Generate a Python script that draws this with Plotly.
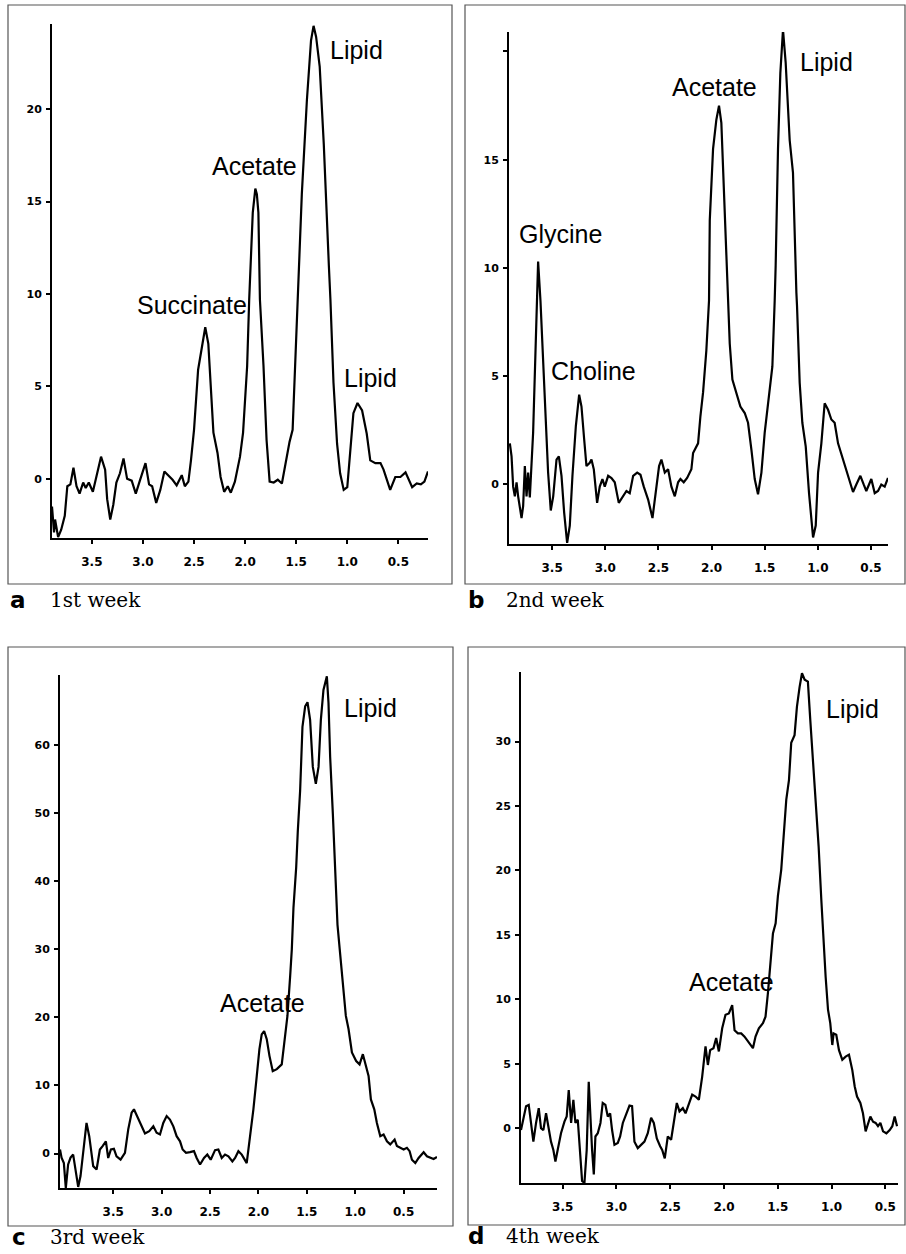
import plotly.graph_objects as go

# ---------------- data (ppm, intensity) ----------------
a_ppm = [3.89, 3.87, 3.86, 3.83, 3.80, 3.765, 3.74, 3.71, 3.68, 3.65, 3.62, 3.585, 3.56, 3.53, 3.49,
         3.455, 3.41, 3.37, 3.35, 3.32, 3.29, 3.26, 3.225, 3.19, 3.155, 3.11, 3.07, 3.03, 2.975, 2.94,
         2.91, 2.87, 2.83, 2.79, 2.75, 2.71, 2.67, 2.62, 2.59, 2.555, 2.53, 2.50, 2.46, 2.425, 2.39,
         2.36, 2.335, 2.31, 2.27, 2.24, 2.205, 2.17, 2.14, 2.10, 2.05, 2.02, 1.98, 1.96, 1.925, 1.90,
         1.885, 1.87, 1.855, 1.82, 1.79, 1.76, 1.72, 1.68, 1.64, 1.61, 1.565, 1.535, 1.51, 1.49, 1.445,
         1.395, 1.355, 1.33, 1.305, 1.27, 1.23, 1.18, 1.165, 1.135, 1.10, 1.07, 1.035, 1.00, 0.97, 0.94,
         0.90, 0.855, 0.81, 0.775, 0.725, 0.675, 0.645, 0.61, 0.58, 0.53, 0.48, 0.43, 0.40, 0.365, 0.32,
         0.28, 0.245, 0.21]
a_val = [-1.5, -2.9, -2.2, -3.15, -2.75, -2.0, -0.4, -0.3, 0.6, -0.4, -0.8, -0.2, -0.5, -0.2, -0.7,
         0.1, 1.2, 0.5, -1.1, -2.2, -1.4, -0.2, 0.3, 1.1, 0.0, -0.1, -0.8, -0.1, 0.85, -0.3,
         -0.4, -1.3, -0.6, 0.4, 0.2, -0.05, -0.35, 0.2, -0.4, -0.15, 1.0, 2.65, 5.9, 7.0, 8.2,
         7.3, 4.8, 2.5, 1.4, 0.1, -0.7, -0.4, -0.75, -0.15, 1.2, 2.5, 6.1, 9.7, 14.4, 15.7,
         15.4, 14.4, 9.7, 6.1, 2.1, -0.15, -0.2, -0.05, -0.25, 0.65, 2.0, 2.65, 6.1, 9.7, 15.4,
         20.5, 23.7, 24.5, 23.9, 22.3, 18.1, 11.5, 9.7, 5.2, 1.9, 0.3, -0.6, -0.45, 1.75, 3.55,
         4.1, 3.7, 2.45, 1.0, 0.85, 0.85, 0.5, -0.05, -0.6, 0.1, 0.1, 0.35, -0.05, -0.45, -0.25,
         -0.3, -0.15, 0.4]

b_ppm = [3.898, 3.882, 3.867, 3.851, 3.835, 3.82, 3.788, 3.773, 3.757, 3.741, 3.726, 3.71, 3.679,
         3.663, 3.647, 3.632, 3.61, 3.585, 3.56, 3.538, 3.513, 3.49, 3.459, 3.437, 3.412, 3.387,
         3.359, 3.334, 3.309, 3.277, 3.246, 3.224, 3.199, 3.177, 3.146, 3.13, 3.108, 3.077, 3.052,
         3.027, 3.005, 2.973, 2.942, 2.911, 2.873, 2.832, 2.801, 2.77, 2.738, 2.70, 2.669, 2.638,
         2.597, 2.556, 2.525, 2.494, 2.472, 2.44, 2.409, 2.378, 2.346, 2.315, 2.293, 2.262, 2.23,
         2.19, 2.174, 2.127, 2.105, 2.08, 2.049, 2.024, 2.017, 1.986, 1.955, 1.93, 1.908, 1.886,
         1.867, 1.845, 1.829, 1.804, 1.767, 1.729, 1.688, 1.657, 1.625, 1.594, 1.563, 1.531, 1.50,
         1.459, 1.428, 1.406, 1.397, 1.375, 1.353, 1.328, 1.303, 1.265, 1.234, 1.202, 1.196, 1.171,
         1.146, 1.114, 1.083, 1.045, 1.02, 0.998, 0.967, 0.936, 0.904, 0.873, 0.842, 0.81, 0.763,
         0.716, 0.669, 0.638, 0.60, 0.569, 0.544, 0.497, 0.465, 0.434, 0.403, 0.371, 0.34]
b_val = [1.9, 1.3, -0.1, -0.55, 0.1, -0.55, -1.55, -1.0, 0.85, -0.55, 0.55, -0.6, 2.4,
         5.5, 7.8, 10.3, 8.5, 5.5, 2.4, 0.55, -1.2, -0.55, 1.15, 1.3, 0.4, -1.3,
         -2.7, -1.9, 0.4, 2.7, 4.15, 3.6, 2.1, 0.85, 1.0, 1.15, 0.7, -0.85, -0.1,
         0.25, -0.1, 0.4, 0.3, 0.1, -0.85, -0.55, -0.3, -0.4, 0.4, 0.55, 0.45, -0.1,
         -0.7, -1.55, -0.4, 0.85, 1.15, 0.55, 0.7, -0.1, -0.55, 0.1, 0.25, 0.1, 0.3,
         0.7, 1.45, 1.9, 3.15, 4.25, 6.2, 8.5, 12.2, 15.5, 16.85, 17.5, 16.7, 13.9,
         11.6, 8.5, 6.5, 4.85, 4.25, 3.6, 3.3, 2.85, 1.6, 0.25, -0.45, 0.55, 2.4,
         4.25, 5.45, 8.5, 10.1, 15.5, 19.0, 21.0, 19.5, 15.9, 14.4, 8.85, 8.25, 4.7,
         2.85, 1.75, -0.4, -2.45, -1.9, 0.55, 1.9, 3.75, 3.45, 3.0, 2.85, 1.9, 1.15,
         0.4, -0.35, 0.0, 0.4, 0.0, -0.3, 0.25, -0.4, -0.3, 0.0, -0.1, 0.3]

c_ppm = [4.05, 4.034, 4.01, 3.99, 3.966, 3.941, 3.914, 3.886, 3.862, 3.838, 3.81, 3.776, 3.748,
         3.707, 3.672, 3.638, 3.61, 3.576, 3.552, 3.524, 3.493, 3.466, 3.424, 3.379, 3.345, 3.31,
         3.286, 3.252, 3.207, 3.172, 3.128, 3.086, 3.052, 3.017, 2.983, 2.948, 2.914, 2.879, 2.845,
         2.81, 2.783, 2.748, 2.707, 2.666, 2.638, 2.603, 2.562, 2.528, 2.493, 2.448, 2.414, 2.379,
         2.345, 2.31, 2.269, 2.241, 2.207, 2.172, 2.121, 2.086, 2.052, 2.017, 1.99, 1.966, 1.941,
         1.914, 1.886, 1.852, 1.81, 1.759, 1.724, 1.70, 1.672, 1.655, 1.638, 1.61, 1.593, 1.569,
         1.545, 1.517, 1.493, 1.466, 1.438, 1.407, 1.379, 1.355, 1.328, 1.293, 1.276, 1.259, 1.231,
         1.207, 1.183, 1.16, 1.128, 1.097, 1.069, 1.034, 0.99, 0.955, 0.921, 0.89, 0.862, 0.838,
         0.803, 0.776, 0.741, 0.707, 0.672, 0.638, 0.593, 0.569, 0.534, 0.50, 0.466, 0.438, 0.414,
         0.379, 0.345, 0.293, 0.259, 0.224, 0.19, 0.155]
c_val = [0.6, -0.6, -1.4, -5.06, -1.6, -0.6, -0.15, -2.4, -4.9, -3.3, 0.6, 4.5, 2.55,
         -1.85, -2.35, 0.6, 1.1, 1.8, -0.65, 0.6, 0.7, -0.4, -0.9, 0.1, 3.55, 6.0,
         6.5, 5.5, 4.0, 2.95, 3.3, 4.0, 3.05, 2.8, 4.5, 5.5, 5.0, 4.0, 2.55,
         1.8, 0.6, 0.1, 0.2, 0.35, -0.65, -1.6, -0.65, -0.15, -0.9, 0.5, 0.6, -0.65,
         -0.15, -0.4, -1.15, -0.65, 0.35, -0.15, -1.4, 2.55, 6.5, 11.4, 15.3, 17.5, 18.0,
         16.8, 14.35, 12.1, 12.4, 13.1, 17.8, 20.25, 26.1, 30.0, 36.1, 42.0, 47.4, 53.35,
         62.7, 65.7, 66.3, 63.7, 56.8, 54.3, 56.8, 63.7, 68.1, 70.1, 66.2, 58.3, 49.9,
         41.0, 33.6, 30.0, 25.2, 20.25, 18.3, 14.85, 13.6, 13.1, 14.6, 12.9, 11.4, 7.95,
         6.5, 4.5, 2.55, 2.8, 1.8, 1.35, 2.05, 1.1, 0.85, 0.6, 0.85, 0.35, -0.9,
         -1.4, -0.65, 0.2, -0.4, -0.65, -0.8, -0.5]

d_ppm = [3.888, 3.866, 3.841, 3.816, 3.795, 3.773, 3.748, 3.723, 3.702, 3.68, 3.655, 3.633, 3.609,
         3.587, 3.568, 3.547, 3.516, 3.484, 3.463, 3.444, 3.422, 3.401, 3.382, 3.36, 3.345, 3.32,
         3.298, 3.277, 3.258, 3.242, 3.227, 3.211, 3.196, 3.174, 3.149, 3.128, 3.103, 3.081, 3.059,
         3.041, 3.019, 2.988, 2.966, 2.941, 2.91, 2.879, 2.855, 2.833, 2.802, 2.771, 2.74, 2.709,
         2.678, 2.653, 2.625, 2.594, 2.575, 2.551, 2.523, 2.492, 2.47, 2.439, 2.414, 2.383, 2.358,
         2.327, 2.296, 2.265, 2.234, 2.203, 2.172, 2.15, 2.129, 2.098, 2.073, 2.048, 2.017, 1.986,
         1.955, 1.924, 1.902, 1.871, 1.84, 1.809, 1.787, 1.756, 1.731, 1.707, 1.676, 1.638, 1.614,
         1.592, 1.57, 1.552, 1.545, 1.52, 1.499, 1.468, 1.446, 1.421, 1.396, 1.375, 1.344, 1.322,
         1.297, 1.275, 1.25, 1.22, 1.198, 1.173, 1.148, 1.12, 1.095, 1.076, 1.07, 1.055, 1.033,
         1.012, 0.993, 0.981, 0.956, 0.931, 0.90, 0.869, 0.838, 0.807, 0.785, 0.763, 0.732, 0.708,
         0.683, 0.661, 0.639, 0.614, 0.59, 0.568, 0.546, 0.521, 0.49, 0.459, 0.435, 0.413, 0.391]
d_val = [-0.15, 0.65, 1.7, 1.8, 0.4, -1.05, 0.4, 1.55, 0.0, -0.15, 1.15, 0.15, -1.05,
         -1.7, -2.6, -1.7, -0.4, 0.5, 0.9, 2.95, 0.4, 2.2, 0.4, 0.65, -1.4, -4.1,
         -4.26, -1.7, 3.6, 0.4, -1.7, -3.6, -0.65, -0.4, 0.4, 1.95, 1.8, 0.9, 1.15,
         -0.15, -1.3, -1.15, -0.65, 0.4, 1.15, 1.75, 1.7, -1.05, -1.55, -1.3, -1.05, -0.4,
         0.8, 0.4, -0.8, -1.4, -1.7, -2.35, -0.65, -0.9, 0.15, 1.95, 1.3, 1.55, 1.15,
         1.95, 2.6, 2.45, 2.2, 4.0, 6.35, 4.9, 6.05, 6.2, 7.0, 5.95, 7.75, 8.8,
         8.9, 9.55, 7.6, 7.35, 7.35, 7.1, 6.85, 6.45, 6.2, 7.1, 7.75, 8.15, 8.65,
         10.45, 12.5, 13.8, 15.1, 15.9, 18.0, 20.05, 22.4, 25.5, 27.0, 29.9, 30.5, 32.7,
         34.25, 35.3, 34.8, 34.65, 31.7, 28.6, 25.75, 21.85, 17.7, 14.6, 13.8, 11.75, 9.2,
         8.15, 6.45, 7.35, 7.25, 6.05, 5.3, 5.55, 5.7, 4.5, 3.25, 2.45, 1.95, 1.15,
         -0.25, 0.25, 0.9, 0.5, 0.4, 0.15, 0.4, -0.25, -0.4, -0.15, 0.15, 0.9, 0.15]

x_ticks = [3.5, 3.0, 2.5, 2.0, 1.5, 1.0, 0.5]
x_ticktext = ["3.5", "3.0", "2.5", "2.0", "1.5", "1.0", "0.5"]
a_yticks = [0, 5, 10, 15, 20]
b_yticks = [0, 5, 10, 15, 20]
b_yticktext = ["0", "5", "10", "15", ""]
c_yticks = [0, 10, 20, 30, 40, 50, 60]
d_yticks = [0, 5, 10, 15, 20, 25, 30]

captions = [("a", "1st week"), ("b", "2nd week"), ("c", "3rd week"), ("d", "4th week")]

# ---------------- layout helpers ----------------
W, H = 906, 1254
def fx(px):
    return px / W
def fy(py):
    return 1 - py / H

panels = [
    ("", a_ppm, a_val, [3.89, 0.21], [-3.2, 24.6], (52, 428, 24, 538), a_yticks, [str(v) for v in a_yticks]),
    ("2", b_ppm, b_val, [3.906, 0.34], [-2.75, 20.9], (509, 888, 32, 544), b_yticks, b_yticktext),
    ("3", c_ppm, c_val, [4.05, 0.155], [-5.06, 70.3], (60, 437, 675, 1188), c_yticks, [str(v) for v in c_yticks]),
    ("4", d_ppm, d_val, [3.888, 0.382], [-4.26, 35.4], (521, 898, 672, 1183), d_yticks, [str(v) for v in d_yticks]),
]

fig = go.Figure()
tickfont = dict(family="DejaVu Sans", size=11, color="black", weight="bold")
xtickfont = dict(family="DejaVu Sans", size=12, color="black", weight="bold")

for suf, xs, ys, xr, yr, box, yt, ytt in panels:
    l, r, t, b = box
    fig.add_trace(go.Scatter(x=xs, y=ys, mode="lines",
                             line=dict(color="black", width=2.2),
                             xaxis="x" + suf, yaxis="y" + suf, showlegend=False,
                             hoverinfo="skip"))
    fig.layout["xaxis" + suf] = dict(domain=[fx(l), fx(r)], range=xr, anchor="y" + suf,
                                     showgrid=False, zeroline=False, showline=True,
                                     linecolor="black", linewidth=2, ticks="outside",
                                     ticklen=4, tickwidth=1.5, tickcolor="black",
                                     tickvals=x_ticks, ticktext=x_ticktext,
                                     tickfont=xtickfont, ticklabelstandoff=8)
    fig.layout["yaxis" + suf] = dict(domain=[fy(b), fy(t)], range=yr, anchor="x" + suf,
                                     showgrid=False, zeroline=False, showline=True,
                                     linecolor="black", linewidth=2, ticks="outside",
                                     ticklen=4, tickwidth=1.5, tickcolor="black",
                                     tickvals=yt, ticktext=ytt, tickfont=tickfont,
                                     ticklabelstandoff=2)

# panel frames
frames = [(8, 452, 5, 584), (465, 905, 5, 584), (8, 453, 647, 1226), (468, 905, 647, 1225)]
for l, r, t, b in frames:
    fig.add_shape(type="rect", xref="paper", yref="paper",
                  x0=fx(l), x1=fx(r), y0=fy(b), y1=fy(t),
                  line=dict(color="#555555", width=1.2))

# peak labels (paper positions in px)
peak_labels = [
    ("Lipid", 356, 48), ("Acetate", 254, 164), ("Succinate", 192, 303), ("Lipid", 370, 376),
    ("Lipid", 826, 60), ("Acetate", 714, 85), ("Glycine", 560, 232), ("Choline", 593, 369),
    ("Lipid", 370, 706), ("Acetate", 262, 1001),
    ("Lipid", 852, 707), ("Acetate", 731, 980),
]
for txt, px, py in peak_labels:
    fig.add_annotation(text=txt, xref="paper", yref="paper", x=fx(px), y=fy(py + 2),
                       showarrow=False, xanchor="center", yanchor="middle",
                       font=dict(family="Liberation Sans", size=25, color="black"))

cap_pos = [(8, 48, 600), (466, 504, 600), (10, 48, 1237), (466, 504, 1236)]
for (letter, text), (lx, tx, cy) in zip(captions, cap_pos):
    fig.add_annotation(text="<b>" + letter + "</b>", xref="paper", yref="paper",
                       x=fx(lx), y=fy(cy), showarrow=False, xanchor="left", yanchor="middle",
                       font=dict(family="DejaVu Sans", size=23, color="black"))
    fig.add_annotation(text=text, xref="paper", yref="paper",
                       x=fx(tx), y=fy(cy), showarrow=False, xanchor="left", yanchor="middle",
                       font=dict(family="DejaVu Serif", size=20, color="black"))

fig.update_layout(width=W, height=H, margin=dict(l=0, r=0, t=0, b=0),
                  paper_bgcolor="white", plot_bgcolor="white")

fig.write_html("out.html", config={"displayModeBar": False},
               post_script="document.body.style.margin='0';document.body.style.overflow='hidden';")
